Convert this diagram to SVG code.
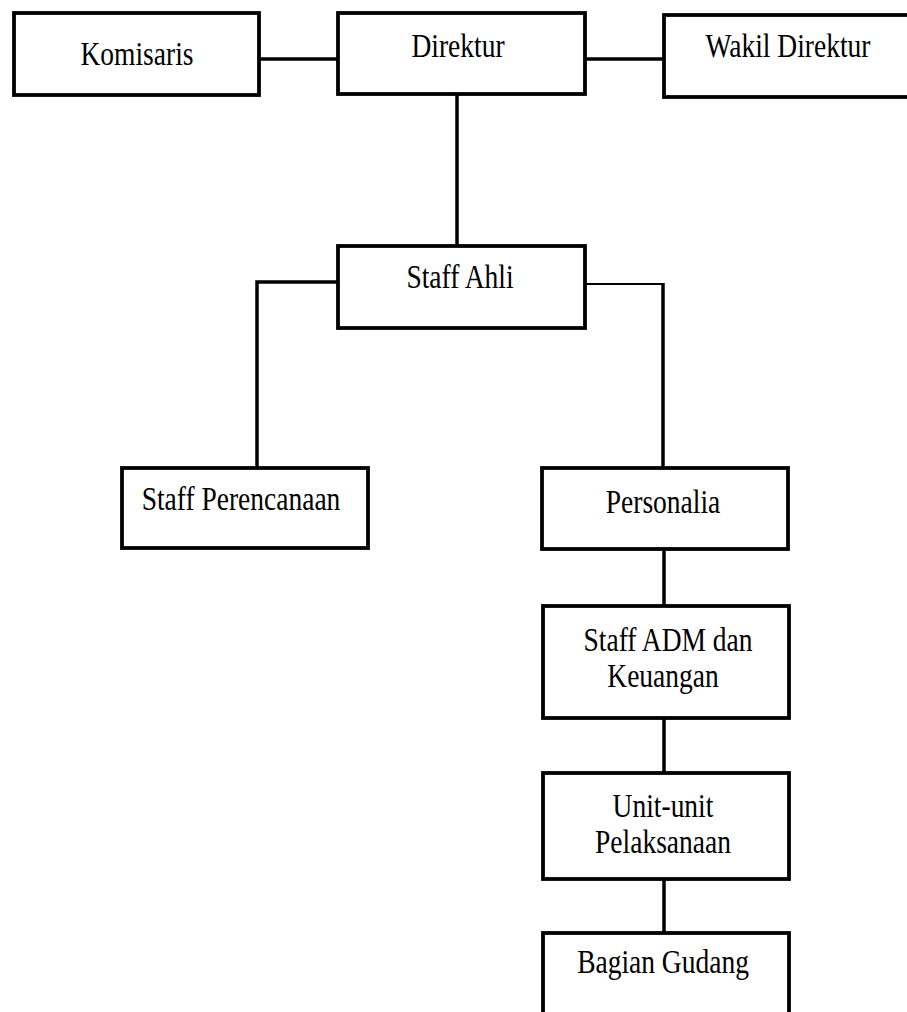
<svg xmlns="http://www.w3.org/2000/svg" width="907" height="1012" viewBox="0 0 907 1012">
  <style>
    .box { fill: #ffffff; stroke: #000000; stroke-width: 3.8; }
    .conn { fill: none; stroke: #000000; stroke-width: 3.5; }
    .thin { stroke-width: 2.2; }
    .lbl { font-family: "Liberation Serif", "Times New Roman", serif; font-size: 27.5px; fill: #000000; text-anchor: middle; }
  </style>
  <rect width="907" height="1012" fill="#ffffff"/>
  <g id="connectors">
    <line class="conn" x1="259" y1="59" x2="338" y2="59"/>
    <line class="conn" x1="585" y1="59" x2="664" y2="59"/>
    <line class="conn" x1="457" y1="94" x2="457" y2="246"/>
    <polyline class="conn" points="338,282 257,282 257,468"/>
    <line class="conn thin" x1="585" y1="284" x2="663" y2="284"/>
    <line class="conn" x1="663" y1="283" x2="663" y2="468"/>
    <line class="conn" x1="664" y1="549" x2="664" y2="606"/>
    <line class="conn" x1="664" y1="718" x2="664" y2="773"/>
    <line class="conn" x1="664" y1="879" x2="664" y2="933"/>
  </g>
  <g id="komisaris">
    <rect class="box" x="14" y="13" width="245" height="82"/>
    <text class="lbl" transform="translate(137,65) scale(1,1.2)">Komisaris</text>
  </g>
  <g id="direktur">
    <rect class="box" x="338" y="13" width="247" height="81"/>
    <text class="lbl" transform="translate(458,57) scale(1,1.2)">Direktur</text>
  </g>
  <g id="wakil-direktur">
    <rect class="box" x="664" y="15" width="260" height="82"/>
    <text class="lbl" transform="translate(788,57) scale(1,1.2)">Wakil Direktur</text>
  </g>
  <g id="staff-ahli">
    <rect class="box" x="338" y="246" width="247" height="82"/>
    <text class="lbl" transform="translate(460,288) scale(1,1.2)">Staff Ahli</text>
  </g>
  <g id="staff-perencanaan">
    <rect class="box" x="122" y="468" width="246" height="80"/>
    <text class="lbl" transform="translate(241,510) scale(1,1.2)">Staff Perencanaan</text>
  </g>
  <g id="personalia">
    <rect class="box" x="542" y="468" width="246" height="81"/>
    <text class="lbl" transform="translate(663,513) scale(1,1.2)">Personalia</text>
  </g>
  <g id="staff-adm">
    <rect class="box" x="543" y="606" width="246" height="112"/>
    <text class="lbl" transform="translate(668,651) scale(1,1.2)">Staff ADM dan</text>
    <text class="lbl" transform="translate(663,687) scale(1,1.2)">Keuangan</text>
  </g>
  <g id="unit-unit">
    <rect class="box" x="543" y="773" width="246" height="106"/>
    <text class="lbl" transform="translate(663,817) scale(1,1.2)">Unit-unit</text>
    <text class="lbl" transform="translate(663,853) scale(1,1.2)">Pelaksanaan</text>
  </g>
  <g id="bagian-gudang">
    <rect class="box" x="543" y="933" width="246" height="100"/>
    <text class="lbl" transform="translate(663,973) scale(1,1.2)">Bagian Gudang</text>
  </g>
</svg>
